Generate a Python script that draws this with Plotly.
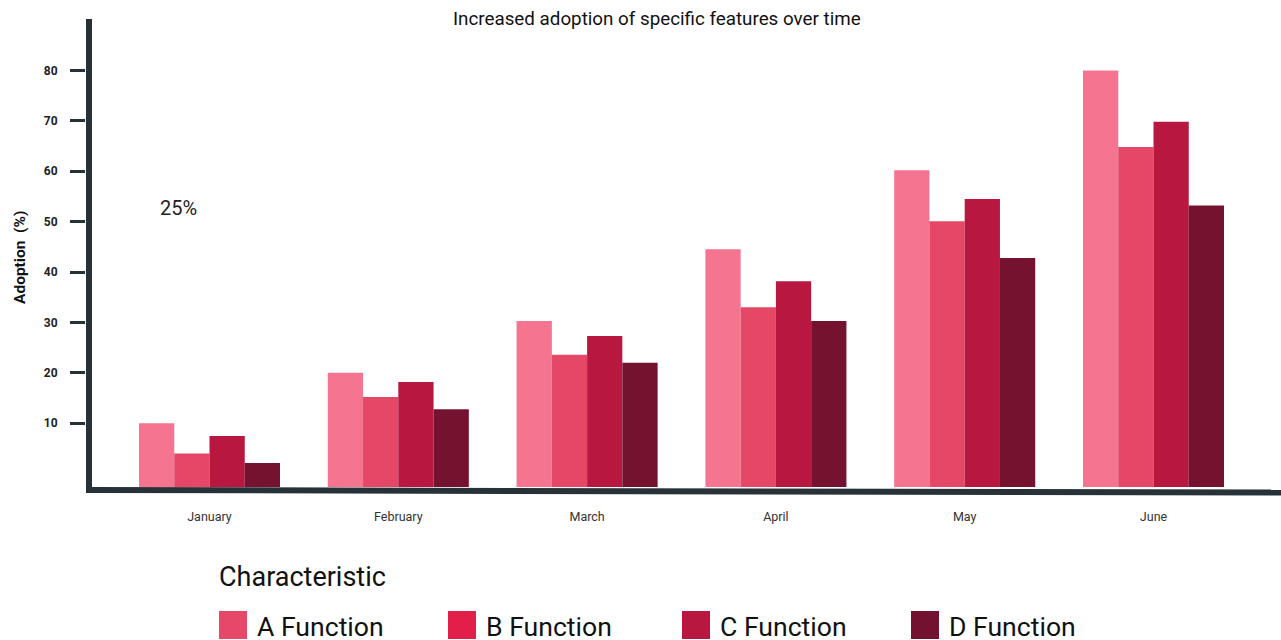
import plotly.graph_objects as go

# ---- data -------------------------------------------------------------
months = ["January", "February", "March", "April", "May", "June"]
series_names = ["A Function", "B Function", "C Function", "D Function"]
a_function = [10, 20, 30.3, 44.5, 60.2, 80]
b_function = [4, 15.2, 23.6, 33, 50.1, 64.8]
c_function = [7.5, 18.2, 27.3, 38.2, 54.5, 69.8]
d_function = [2.1, 12.8, 22, 30.3, 42.8, 53.2]
y_tick_values = [10, 20, 30, 40, 50, 60, 70, 80]

# ---- styling ----------------------------------------------------------
bar_colors = ["#F5748F", "#E54866", "#B8183F", "#741230"]
legend_colors = ["#E54868", "#E21F48", "#B8183F", "#731230"]
axis_color = "#263238"
FONT = "Roboto"

# plot area in pixels (1281 x 640 canvas)
L, R, T, B = 86, 1281, 19, 487
W, H = R - L, B - T
Y_BASE, Y_TOP = -2.64, 90.2   # bars rise from the drawn baseline


def px_x(px):
    return (px - L) / W


def px_y(py):
    return (B - py) / H


fig = go.Figure()
for name, vals, col in zip(series_names,
                           [a_function, b_function, c_function, d_function],
                           bar_colors):
    fig.add_trace(go.Bar(
        x=months,
        y=[v - Y_BASE for v in vals],
        base=Y_BASE,
        name=name,
        marker=dict(color=col, line=dict(width=0)),
        customdata=vals,
        hovertemplate="%{x}: %{customdata}%<extra>" + name + "</extra>",
        showlegend=False,
    ))

shapes = [
    # vertical axis line
    dict(type="line", xref="paper", yref="paper",
         x0=px_x(89), x1=px_x(89), y0=px_y(19), y1=px_y(493),
         line=dict(color=axis_color, width=6)),
    # horizontal axis line, slightly slanted
    dict(type="line", xref="paper", yref="paper",
         x0=px_x(86), x1=px_x(1281), y0=px_y(490), y1=px_y(492.5),
         line=dict(color=axis_color, width=6)),
]

annotations = [
    dict(text="Increased adoption of specific features over time",
         xref="paper", yref="paper", x=px_x(657), y=px_y(19),
         xanchor="center", yanchor="middle", showarrow=False,
         font=dict(family=FONT, size=18.8, color="#111111")),
    dict(text="25%", xref="paper", yref="paper", x=px_x(178), y=px_y(208),
         xanchor="center", yanchor="middle", showarrow=False,
         font=dict(family=FONT, size=20, color="#222222")),
    dict(text="<b>Adoption  (%)</b>", xref="paper", yref="paper",
         x=px_x(20), y=px_y(258), textangle=-90,
         xanchor="center", yanchor="middle", showarrow=False,
         font=dict(family=FONT, size=15.5, color="#111111")),
    dict(text="Characteristic", xref="paper", yref="paper",
         x=px_x(217), y=px_y(577), xanchor="left", yanchor="middle",
         showarrow=False, font=dict(family=FONT, size=27, color="#111111")),
]

# legend drawn as swatches + labels
swatch_left = [219, 448, 682, 911]
for name, col, sx in zip(series_names, legend_colors, swatch_left):
    shapes.append(dict(type="rect", xref="paper", yref="paper",
                       x0=px_x(sx), x1=px_x(sx + 28),
                       y0=px_y(639), y1=px_y(611),
                       fillcolor=col, line=dict(width=0)))
    annotations.append(dict(text=name, xref="paper", yref="paper",
                            x=px_x(sx + 36), y=px_y(626),
                            xanchor="left", yanchor="middle",
                            showarrow=False,
                            font=dict(family=FONT, size=26.6, color="#111111")))

fig.update_layout(
    width=1281, height=640,
    margin=dict(l=L, r=1281 - R, t=T, b=640 - B, pad=0),
    paper_bgcolor="white", plot_bgcolor="white",
    barmode="group", bargap=0.253, bargroupgap=0,
    showlegend=False,
    shapes=shapes,
    annotations=annotations,
    xaxis=dict(
        range=[(L - 209.5) / 188.8, (R - 209.5) / 188.8],
        showgrid=False, zeroline=False, showline=False,
        ticks="", ticklabelstandoff=20,
        tickfont=dict(family=FONT, size=12.5, color="#333333"),
    ),
    yaxis=dict(
        range=[Y_BASE, Y_TOP],
        tickvals=y_tick_values,
        showgrid=False, zeroline=False, showline=False,
        ticks="outside", ticklen=15, tickwidth=3, tickcolor=axis_color,
        ticklabelstandoff=10,
        tickfont=dict(family=FONT, size=12, color="#222222", weight="bold"),
    ),
)

fig.write_html("out.html")
